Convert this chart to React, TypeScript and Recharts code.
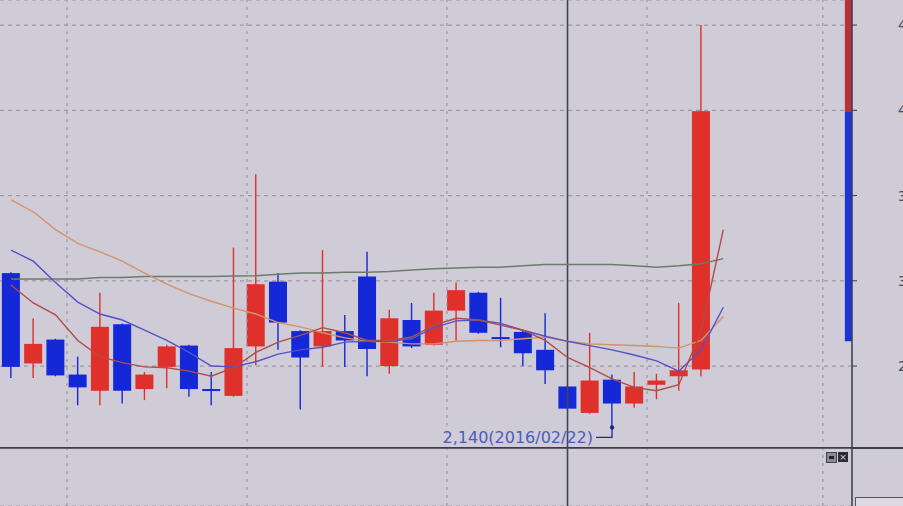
import {
  ComposedChart,
  Bar,
  Line,
  XAxis,
  YAxis,
  CartesianGrid,
  ReferenceLine,
  ReferenceArea,
  ReferenceDot,
} from 'recharts';

// weekly bars; the last index only carries moving averages
const weekIdx = [0, 1, 2, 3, 4, 5, 6, 7, 8, 9, 10, 11, 12, 13, 14, 15, 16, 17, 18, 19, 20, 21, 22, 23, 24, 25, 26, 27, 28, 29, 30, 31, 32];

const opens = [3045, 2515, 2655, 2450, 2355, 2745, 2365, 2495, 2620, 2365, 2325, 2615, 2995, 2705, 2615, 2705, 3025, 2500, 2770, 2625, 2825, 2930, 2670, 2700, 2595, 2380, 2225, 2420, 2280, 2390, 2440, 2480, null];
const highs = [3050, 2780, 2660, 2555, 2930, 2750, 2465, 2625, 2625, 2465, 3195, 3625, 3045, 2710, 3180, 2800, 3170, 2830, 2870, 2930, 2990, 2935, 2900, 2705, 2810, 2385, 2695, 2450, 2465, 2455, 2870, 4500, null];
const lows = [2430, 2430, 2440, 2270, 2270, 2280, 2300, 2370, 2320, 2270, 2320, 2505, 2595, 2245, 2495, 2495, 2440, 2455, 2605, 2620, 2650, 2690, 2610, 2500, 2395, 2245, 2220, 2140, 2255, 2305, 2355, 2440, null];
const closes = [2495, 2630, 2445, 2375, 2730, 2355, 2450, 2615, 2365, 2355, 2605, 2980, 2755, 2550, 2705, 2650, 2600, 2780, 2615, 2825, 2945, 2695, 2665, 2575, 2475, 2250, 2415, 2280, 2380, 2415, 2475, 3995, null];

const ma5 = [2975, 2870, 2800, 2650, 2555, 2520, 2495, 2490, 2470, 2440, 2490, 2580, 2640, 2680, 2725, 2695, 2650, 2650, 2670, 2740, 2780, 2770, 2740, 2710, 2650, 2550, 2490, 2425, 2375, 2355, 2390, 2705, 3300];
const ma10 = [3180, 3115, 2990, 2875, 2805, 2770, 2710, 2650, 2580, 2500, 2495, 2525, 2570, 2595, 2610, 2640, 2645, 2645, 2660, 2725, 2765, 2770, 2750, 2710, 2675, 2645, 2620, 2595, 2565, 2530, 2470, 2595, 2845];
const ma20 = [3475, 3405, 3300, 3220, 3170, 3115, 3045, 2980, 2925, 2880, 2840, 2805, 2755, 2730, 2695, 2665, 2645, 2640, 2630, 2630, 2645, 2650, 2650, 2660, 2670, 2645, 2630, 2625, 2620, 2615, 2605, 2650, 2790];
const ma60 = [3010, 3010, 3010, 3010, 3020, 3020, 3025, 3025, 3025, 3025, 3028, 3030, 3038, 3045, 3045, 3050, 3050, 3055, 3063, 3070, 3075, 3080, 3080, 3088, 3095, 3095, 3095, 3095, 3088, 3080, 3088, 3100, 3130];

const priceTicks = [2500, 3000, 3500, 4000, 4500];
const periodTicks = [2.51, 10.6, 19.58, 28.57, 36.47];

const lowIndex = 27;
const lowValue = 2140;
const lowDate = '2016/02/22';
const cursorIndex = 25;
const paneBottom = 2020;

// right-hand range strip: upper (red) and lower (blue) parts
const stripTop = 4647;
const stripMid = 3990;
const stripBottom = 2645;

const RED = '#e0302b';
const BLUE = '#1428d8';

const data = weekIdx.map((i, k) => ({
  i,
  open: opens[k],
  high: highs[k],
  low: lows[k],
  close: closes[k],
  range: opens[k] == null ? null : [lows[k], highs[k]],
  ma5: ma5[k],
  ma10: ma10[k],
  ma20: ma20[k],
  ma60: ma60[k],
}));

function Candle(props: any) {
  const { x, y, width, height, payload } = props;
  if (!payload || payload.open == null || !isFinite(y) || !isFinite(height)) return <g />;
  const { open, close, high, low } = payload;
  const color = close >= open ? RED : BLUE;
  const top = Math.min(y, y + height);
  const span = Math.abs(height);
  const k = span / (high - low);
  const py = (v: number) => top + (high - v) * k;
  const bodyTop = py(Math.max(open, close));
  const bodyBot = py(Math.min(open, close));
  const cx = x + width / 2;
  return (
    <g>
      <line x1={cx} x2={cx} y1={top} y2={top + span} stroke={color} strokeWidth={1.4} />
      <rect x={x} y={bodyTop} width={width} height={Math.max(bodyBot - bodyTop, 2)} fill={color} />
    </g>
  );
}

function LowMarker(props: any) {
  const { cx, cy } = props;
  if (cx == null || cy == null) return <g />;
  return (
    <g>
      <path d={`M${cx - 16} ${cy + 10} H${cx} V${cy}`} stroke="#1e2a8a" strokeWidth={1.3} fill="none" />
      <circle cx={cx} cy={cy} r={2.2} fill="#1e2a8a" />
      <text x={cx - 19} y={cy + 16} textAnchor="end" fontSize={16} fontFamily="DejaVu Sans" fill="#4b5cc0">
        {`${lowValue.toLocaleString('en-US')}(${lowDate})`}
      </text>
    </g>
  );
}

export default function App() {
  return (
    <div style={{ position: 'absolute', left: 0, top: 0, width: 903, height: 506, background: '#cfcbd7', overflow: 'hidden' }}>
      <ComposedChart width={903} height={506} data={data} margin={{ top: 0, right: 0, bottom: 0, left: 0 }}>
        <CartesianGrid vertical={false} stroke="#9c98a6" strokeDasharray="4 4" strokeWidth={1.2} />
        <XAxis
          dataKey="i"
          type="number"
          domain={[-0.494, 37.78]}
          allowDataOverflow
          height={0}
          axisLine={false}
          tickLine={false}
          tick={false}
        />
        <YAxis
          orientation="right"
          width={51}
          domain={[1679, 4647]}
          allowDataOverflow
          ticks={priceTicks}
          tickFormatter={(v: number) => v.toLocaleString('en-US')}
          axisLine={{ stroke: '#3a3d4c', strokeWidth: 1.5 }}
          tickLine={{ stroke: '#3a3d4c' }}
          tickSize={5}
          tickMargin={41}
          tick={{ fill: '#4a4a58', fontSize: 14, fontFamily: 'DejaVu Sans' }}
        />
        {periodTicks.map((t) => (
          <ReferenceLine key={t} x={t} stroke="#9c98a6" strokeDasharray="3 5" strokeWidth={1.2} />
        ))}
        <ReferenceArea x1={37.46} x2={37.78} y1={stripMid} y2={stripTop} fill="#b8303c" fillOpacity={1} stroke="none" ifOverflow="hidden" />
        <ReferenceArea x1={37.46} x2={37.78} y1={stripBottom} y2={stripMid} fill="#1a34d8" fillOpacity={1} stroke="none" ifOverflow="hidden" />
        <ReferenceLine y={paneBottom} stroke="#3a3d4c" strokeWidth={1.6} />
        <ReferenceLine x={cursorIndex} stroke="#3f4456" strokeWidth={1.6} />
        <Bar dataKey="range" barSize={18} shape={<Candle />} isAnimationActive={false} />
        <Line type="linear" dataKey="ma60" stroke="#6a7c6c" strokeWidth={1.5} dot={false} activeDot={false} isAnimationActive={false} />
        <Line type="linear" dataKey="ma20" stroke="#d3936a" strokeWidth={1.4} dot={false} activeDot={false} isAnimationActive={false} />
        <Line type="linear" dataKey="ma10" stroke="#5652c8" strokeWidth={1.4} dot={false} activeDot={false} isAnimationActive={false} />
        <Line type="linear" dataKey="ma5" stroke="#b04c48" strokeWidth={1.4} dot={false} activeDot={false} isAnimationActive={false} />
        <ReferenceDot x={lowIndex} y={lowValue} shape={(p: any) => <LowMarker {...p} />} ifOverflow="visible" />
      </ComposedChart>
      <div style={{ position: 'absolute', left: 852, top: 447, width: 51, height: 1.6, background: '#3a3d4c' }} />
      <div style={{ position: 'absolute', left: 826, top: 452, width: 9, height: 9, background: '#8c8a96', border: '1px solid #44444f' }}>
        <div style={{ margin: '3px 2px', width: 5, height: 3, background: '#222' }} />
      </div>
      <div style={{ position: 'absolute', left: 838, top: 452, width: 10, height: 10, background: '#2a2c36', color: '#ddd', fontSize: 9, lineHeight: '10px', textAlign: 'center', fontFamily: 'DejaVu Sans' }}>
        ×
      </div>
      <div style={{ position: 'absolute', left: 855, top: 497, width: 48, height: 9, background: '#dcd9e2', borderTop: '1px solid #55555f', borderLeft: '1px solid #55555f' }} />
    </div>
  );
}
